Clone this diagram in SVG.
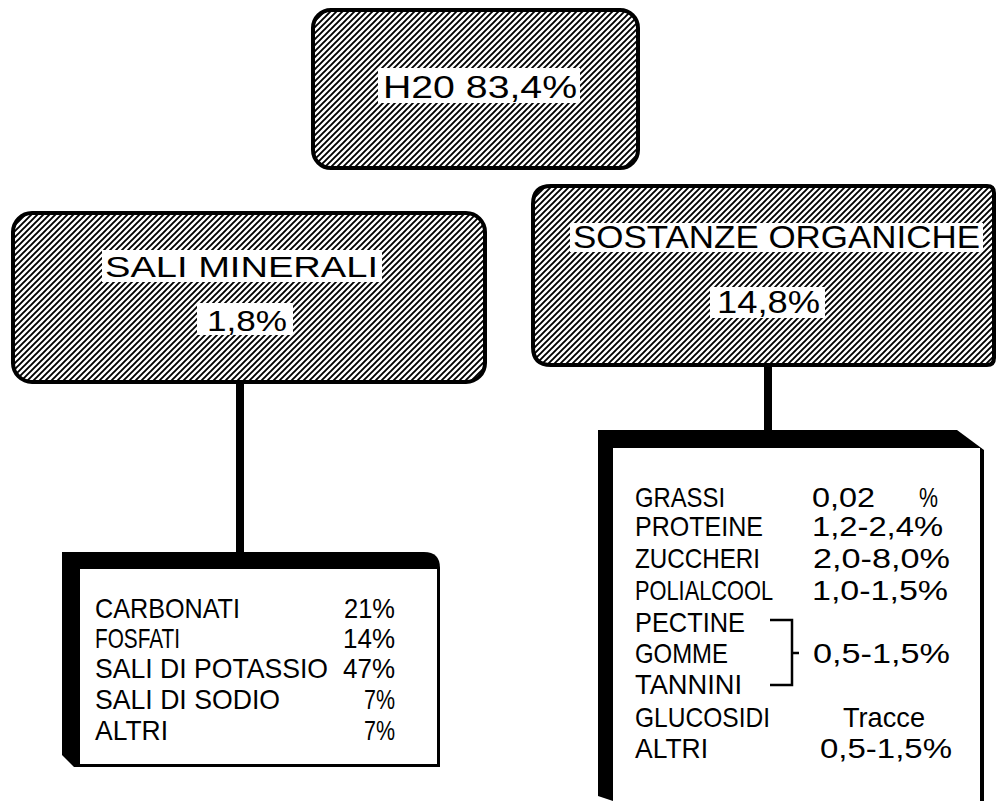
<svg xmlns="http://www.w3.org/2000/svg" width="996" height="801" viewBox="0 0 996 801">
<defs>
<pattern id="hatch" patternUnits="userSpaceOnUse" width="6" height="6">
<path d="M0,6 L6,0 M-1,1 L1,-1 M5,7 L7,5" stroke="#000" stroke-width="1.9" fill="none"/>
</pattern>
</defs>
<style>
.hbox{fill:url(#hatch);stroke:#000;stroke-width:4}
.lbl{fill:#fff}
text{font-family:"Liberation Sans",Arial,sans-serif;fill:#000}
.t1{font-size:32px}
.t2{font-size:30px}
.t4{font-size:28px}
.t3{font-size:28px}
.conn{stroke:#000;stroke-width:8;fill:none}
.br{stroke:#000;stroke-width:2.5;fill:none}
</style>
<rect x="0" y="0" width="996" height="801" fill="#fff"/>

<g id="connectors">
<line class="conn" x1="240" y1="382" x2="240" y2="553"/>
<line class="conn" x1="768" y1="365" x2="768" y2="431"/>
</g>

<g id="node-h2o">
<rect class="hbox" x="313" y="10" width="325" height="158" rx="18"/>
<rect class="lbl" x="378" y="68" width="202" height="35"/>
<text class="t1" x="383" y="98" textLength="194" lengthAdjust="spacingAndGlyphs">H20 83,4%</text>
</g>

<g id="node-sali">
<rect class="hbox" x="13" y="213" width="472" height="169" rx="19"/>
<rect class="lbl" x="102" y="250" width="280" height="32"/>
<text class="t2" x="105" y="277" textLength="273" lengthAdjust="spacingAndGlyphs">SALI MINERALI</text>
<rect class="lbl" x="197" y="303" width="96" height="32"/>
<text class="t2" x="207" y="331" textLength="80" lengthAdjust="spacingAndGlyphs">1,8%</text>
</g>

<g id="node-organiche">
<path class="hbox" d="M551,186 H987 Q994,186 994,193 V358 Q994,365 987,365 H551 Q533,365 533,347 V204 Q533,186 551,186 Z"/>
<rect class="lbl" x="570" y="223" width="413" height="29"/>
<text class="t1" x="573" y="248" textLength="407" lengthAdjust="spacingAndGlyphs">SOSTANZE ORGANICHE</text>
<rect class="lbl" x="710" y="287" width="115" height="31"/>
<text class="t1" x="717" y="313" textLength="103" lengthAdjust="spacingAndGlyphs">14,8%</text>
</g>

<g id="node-sali-list">
<path d="M62,552 H424 Q440,552 440,568 V767 H74 L62,755 Z" fill="#000"/>
<rect x="80" y="569" width="357" height="195" fill="#fff"/>
<text class="t4" x="95" y="618" textLength="145" lengthAdjust="spacingAndGlyphs">CARBONATI</text>
<text class="t4" x="95" y="648" textLength="85" lengthAdjust="spacingAndGlyphs">FOSFATI</text>
<text class="t4" x="95" y="678" textLength="233" lengthAdjust="spacingAndGlyphs">SALI DI POTASSIO</text>
<text class="t4" x="95" y="709" textLength="185" lengthAdjust="spacingAndGlyphs">SALI DI SODIO</text>
<text class="t4" x="95" y="740" textLength="73" lengthAdjust="spacingAndGlyphs">ALTRI</text>
<text class="t4" x="344" y="618" textLength="51" lengthAdjust="spacingAndGlyphs">21%</text>
<text class="t4" x="343" y="648" textLength="52" lengthAdjust="spacingAndGlyphs">14%</text>
<text class="t4" x="343" y="678" textLength="52" lengthAdjust="spacingAndGlyphs">47%</text>
<text class="t4" x="364" y="709" textLength="31" lengthAdjust="spacingAndGlyphs">7%</text>
<text class="t4" x="364" y="740" textLength="31" lengthAdjust="spacingAndGlyphs">7%</text>
</g>

<g id="node-organiche-list">
<path d="M598,430 H957 L984,450 V801 H613 L598,796 Z" fill="#000"/>
<rect x="613" y="448" width="367" height="353" fill="#fff"/>
<text class="t3" x="635" y="507" textLength="90" lengthAdjust="spacingAndGlyphs">GRASSI</text>
<text class="t3" x="635" y="536" textLength="128" lengthAdjust="spacingAndGlyphs">PROTEINE</text>
<text class="t3" x="635" y="568" textLength="125" lengthAdjust="spacingAndGlyphs">ZUCCHERI</text>
<text class="t3" x="635" y="600" textLength="138" lengthAdjust="spacingAndGlyphs">POLIALCOOL</text>
<text class="t3" x="635" y="632" textLength="110" lengthAdjust="spacingAndGlyphs">PECTINE</text>
<text class="t3" x="635" y="663" textLength="93" lengthAdjust="spacingAndGlyphs">GOMME</text>
<text class="t3" x="635" y="694" textLength="107" lengthAdjust="spacingAndGlyphs">TANNINI</text>
<text class="t3" x="635" y="727" textLength="135" lengthAdjust="spacingAndGlyphs">GLUCOSIDI</text>
<text class="t3" x="635" y="758" textLength="73" lengthAdjust="spacingAndGlyphs">ALTRI</text>
<text class="t3" x="812" y="507"><tspan textLength="63" lengthAdjust="spacingAndGlyphs">0,02</tspan><tspan x="919" textLength="19" lengthAdjust="spacingAndGlyphs">%</tspan></text>
<text class="t3" x="812" y="536" textLength="131" lengthAdjust="spacingAndGlyphs">1,2-2,4%</text>
<text class="t3" x="813" y="568" textLength="137" lengthAdjust="spacingAndGlyphs">2,0-8,0%</text>
<text class="t3" x="812" y="600" textLength="136" lengthAdjust="spacingAndGlyphs">1,0-1,5%</text>
<text class="t3" x="813" y="663" textLength="137" lengthAdjust="spacingAndGlyphs">0,5-1,5%</text>
<text class="t3" x="843" y="727" textLength="82" lengthAdjust="spacingAndGlyphs">Tracce</text>
<text class="t3" x="820" y="758" textLength="132" lengthAdjust="spacingAndGlyphs">0,5-1,5%</text>
<path class="br" d="M770,620 H792 V685 H770 M792,653 H799"/>
</g>
</svg>
